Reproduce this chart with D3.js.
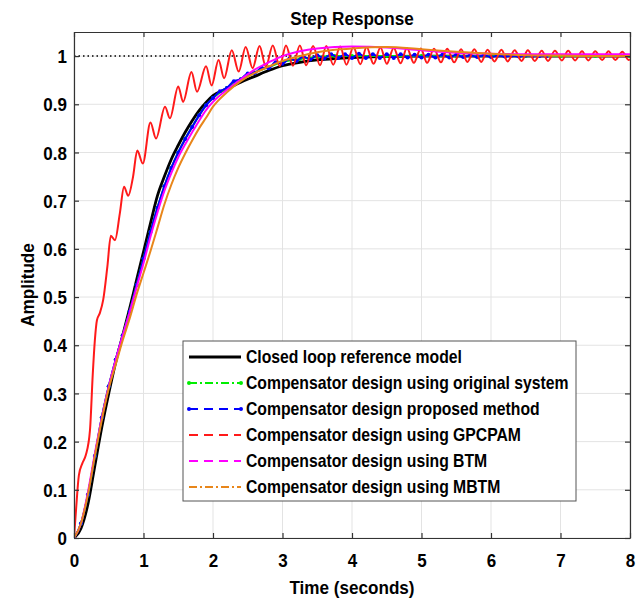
<!DOCTYPE html>
<html>
<head>
<meta charset="utf-8">
<script src="https://cdnjs.cloudflare.com/ajax/libs/d3/7.8.5/d3.min.js"></script>
<style>
  body { margin: 0; background: #fff; }
  svg text { font-family: "Liberation Sans", Arial, sans-serif; font-weight: bold; fill: #000; }
</style>
</head>
<body>
<svg id="fig" width="643" height="601"></svg>
<script>
// step response data
const tGrid = [0, 0.1, 0.2, 0.3, 0.4, 0.5, 0.6, 0.7, 0.8, 0.9, 1.0, 1.1, 1.2, 1.3, 1.4, 1.5, 1.6, 1.7, 1.8, 1.9,
  2.0, 2.2, 2.4, 2.6, 2.8, 3.0, 3.25, 3.5, 3.75, 4.0, 4.5, 5.0, 5.5, 6.0, 6.5, 7.0, 7.5, 8.0];

const refModel = [0, 0.02, 0.07, 0.15, 0.23, 0.30, 0.365, 0.42, 0.476, 0.535, 0.594, 0.653, 0.71, 0.75, 0.786, 0.815,
  0.842, 0.866, 0.887, 0.904, 0.918, 0.932, 0.946, 0.958, 0.970, 0.980, 0.987, 0.992, 0.995, 0.997, 0.999, 1.0, 1.0, 1.0, 1.0, 1.0, 1.0, 1.0];

const originalSys = [0, 0.03, 0.09, 0.17, 0.25, 0.315, 0.37, 0.42, 0.47, 0.525, 0.58, 0.635, 0.685, 0.73, 0.768, 0.80,
  0.828, 0.853, 0.877, 0.898, 0.913, 0.934, 0.952, 0.966, 0.977, 0.988, 0.994, 0.998, 1.0, 1.0, 1.0, 1.0, 1.0, 1.0, 1.0, 1.0, 1.0, 1.0];

const btm = [0, 0.03, 0.095, 0.175, 0.25, 0.315, 0.37, 0.42, 0.468, 0.52, 0.57, 0.625, 0.675, 0.72, 0.757, 0.79,
  0.817, 0.842, 0.866, 0.888, 0.905, 0.93, 0.952, 0.972, 0.987, 1.0, 1.01, 1.016, 1.019, 1.02, 1.018, 1.012, 1.007, 1.005, 1.004, 1.004, 1.004, 1.004];

const mbtm = [0, 0.03, 0.09, 0.17, 0.245, 0.31, 0.36, 0.41, 0.455, 0.505, 0.55, 0.595, 0.643, 0.692, 0.733, 0.768,
  0.798, 0.825, 0.85, 0.872, 0.895, 0.925, 0.948, 0.965, 0.978, 0.99, 1.0, 1.008, 1.013, 1.016, 1.019, 1.014, 1.009, 1.005, 1.002, 1.001, 1.0, 1.0];

const tProposed = [0, 0.1, 0.2, 0.3, 0.4, 0.5, 0.6, 0.7, 0.8, 0.9, 1.0, 1.1, 1.2, 1.3, 1.4, 1.5, 1.6, 1.7, 1.8, 1.9,
  2.0, 2.1, 2.2, 2.3, 2.4, 2.5, 2.6, 2.7, 2.8, 2.9, 3.0, 3.1, 3.2, 3.3, 3.4, 3.5, 3.6, 3.7, 3.8, 3.9,
  4.0, 4.1, 4.2, 4.3, 4.4, 4.5, 4.6, 4.7, 4.8, 4.9, 5.0, 5.1, 5.2, 5.3, 5.4, 5.5, 5.6, 5.7, 5.8, 5.9,
  6.0, 6.1, 6.2, 6.3, 6.4, 6.5, 6.6, 6.7, 6.8];
const proposed = [0, 0.03, 0.09, 0.17, 0.25, 0.315, 0.37, 0.42, 0.47, 0.525, 0.58, 0.635, 0.685, 0.73, 0.768, 0.80,
  0.828, 0.853, 0.877, 0.898, 0.913, 0.927, 0.934, 0.948, 0.952, 0.964, 0.965, 0.976, 0.975, 0.987,
  0.984, 0.995, 0.990, 0.999, 0.993, 1.002, 0.995, 1.004, 0.996, 1.004, 0.996, 1.005, 0.996, 1.004, 0.996,
  1.004, 0.996, 1.004, 0.997, 1.003, 0.997, 1.003, 0.997, 1.003, 0.997, 1.003, 0.998, 1.002, 0.998, 1.002,
  0.998, 1.001, 0.999, 1.001, 0.999, 1.001, 1.0, 1.0, 1.0];

const tGpcpam = [0, 0.03, 0.07, 0.12, 0.17, 0.23, 0.27, 0.30, 0.33, 0.37, 0.42, 0.48, 0.53, 0.59, 0.66, 0.72, 0.78, 0.85,
  0.91, 0.99, 1.10, 1.18, 1.31, 1.38, 1.50, 1.57, 1.69, 1.77, 1.90, 1.98, 2.08, 2.16, 2.27, 2.37, 2.47, 2.57,
  2.67, 2.76, 2.86, 2.96, 3.05, 3.15, 3.25, 3.34, 3.44, 3.54, 3.63, 3.73, 3.83, 3.92, 4.02, 4.12, 4.21, 4.31,
  4.41, 4.50, 4.60, 4.70, 4.79, 4.89, 4.99, 5.08, 5.18, 5.28, 5.37, 5.47, 5.57, 5.66, 5.76, 5.86, 5.95, 6.05,
  6.15, 6.24, 6.34, 6.44, 6.53, 6.63, 6.73, 6.82, 6.92, 7.02, 7.11, 7.21, 7.31, 7.40, 7.50, 7.60, 7.69, 7.79,
  7.89, 7.98, 8.0];
const gpcpam = [0, 0.06, 0.13, 0.155, 0.172, 0.224, 0.34, 0.41, 0.452, 0.466, 0.494, 0.563, 0.627, 0.618, 0.674, 0.729, 0.71, 0.75,
  0.804, 0.777, 0.862, 0.829, 0.895, 0.871, 0.937, 0.905, 0.967, 0.926, 0.979, 0.939, 0.992, 0.954, 1.012, 0.968, 1.019, 0.975,
  1.021, 0.978, 1.022, 0.979, 1.022, 0.98, 1.022, 0.981, 1.021, 0.981, 1.021, 0.982, 1.020, 0.982, 1.019, 0.983, 1.019, 0.984,
  1.018, 0.984, 1.017, 0.985, 1.017, 0.986, 1.016, 0.986, 1.015, 0.987, 1.015, 0.987, 1.014, 0.988, 1.014, 0.988, 1.013, 0.989,
  1.013, 0.989, 1.012, 0.99, 1.012, 0.99, 1.011, 0.99, 1.011, 0.991, 1.011, 0.991, 1.010, 0.991, 1.010, 0.992, 1.010, 0.992,
  1.009, 0.992, 0.993];

const xTicks = [0, 1, 2, 3, 4, 5, 6, 7, 8];
const yTicks = [0, 0.1, 0.2, 0.3, 0.4, 0.5, 0.6, 0.7, 0.8, 0.9, 1];
const legendLabels = [
  'Closed loop reference model',
  'Compensator design using original system',
  'Compensator design proposed method',
  'Compensator design using GPCPAM',
  'Compensator design using BTM',
  'Compensator design using MBTM'
];

const zip = (t, v) => t.map((d, i) => [d, v[i]]);

const series = [
  { name: legendLabels[0], pts: zip(tGrid, refModel), color: '#000000', width: 2.8, dash: null, dots: false },
  { name: legendLabels[1], pts: zip(tGrid, originalSys), color: '#00ee00', width: 2, dash: '8,3,2,3', dots: true },
  { name: legendLabels[2], pts: zip(tProposed, proposed), color: '#0000ff', width: 2, dash: '9,6', dots: true },
  { name: legendLabels[3], pts: zip(tGpcpam, gpcpam), color: '#ff1a1a', width: 2, dash: '9,6', dots: false },
  { name: legendLabels[4], pts: zip(tGrid, btm), color: '#ff00ff', width: 2, dash: '9,6', dots: false },
  { name: legendLabels[5], pts: zip(tGrid, mbtm), color: '#e8861a', width: 2, dash: '8,3,2,3', dots: false }
];

const svg = d3.select('#fig');
const margin = { top: 32, right: 13, bottom: 63, left: 74 };
const W = 643, H = 601;
const x = d3.scaleLinear().domain([0, 8]).range([margin.left, W - margin.right]);
const y = d3.scaleLinear().domain([0, 1.05]).range([H - margin.bottom, margin.top]);

// the original text is a tall, narrow bold face: squeeze horizontally
const squeeze = (sel, k, extra = '') => sel.each(function () {
  const t = d3.select(this);
  const tx = +t.attr('x') || 0, ty = +t.attr('y') || 0;
  t.attr('x', 0).attr('y', 0).attr('transform', `translate(${tx},${ty}) ${extra} scale(${k},1)`);
});

// grid
const grid = svg.append('g').attr('stroke', '#e3e3e3').attr('stroke-width', 1);
grid.selectAll('.gx').data(xTicks).join('line')
  .attr('x1', d => x(d)).attr('x2', d => x(d))
  .attr('y1', y(0)).attr('y2', y(1.05));
grid.selectAll('.gy').data(yTicks).join('line')
  .attr('x1', x(0)).attr('x2', x(8))
  .attr('y1', d => y(d)).attr('y2', d => y(d));

svg.append('defs').append('clipPath').attr('id', 'clip')
  .append('rect').attr('x', x(0)).attr('y', y(1.05))
  .attr('width', x(8) - x(0)).attr('height', y(0) - y(1.05));

const plot = svg.append('g').attr('clip-path', 'url(#clip)');

// steady-state dotted line
plot.append('line')
  .attr('x1', x(0)).attr('x2', x(8)).attr('y1', y(1)).attr('y2', y(1))
  .attr('stroke', '#000').attr('stroke-width', 1.5).attr('stroke-dasharray', '1.5,3');

const line = d3.line().x(d => x(d[0])).y(d => y(d[1])).curve(d3.curveMonotoneX);

series.forEach(s => {
  plot.append('path')
    .attr('d', line(s.pts))
    .attr('fill', 'none')
    .attr('stroke', s.color)
    .attr('stroke-width', s.width)
    .attr('stroke-linejoin', 'round');
  if (s.dots) {
    plot.selectAll(null).data(s.pts).join('circle')
      .attr('cx', d => x(d[0])).attr('cy', d => y(d[1]))
      .attr('r', 2).attr('fill', s.color);
  }
});

// axes: ticks inside on all four sides
const axisColor = '#333';
const gx = svg.append('g').attr('transform', `translate(0,${y(0)})`)
  .call(d3.axisBottom(x).tickValues(xTicks).tickSizeInner(-5).tickSizeOuter(0).tickPadding(16).tickFormat(d3.format('d')));
const gy = svg.append('g').attr('transform', `translate(${x(0)},0)`)
  .call(d3.axisLeft(y).tickValues(yTicks).tickSizeInner(-5).tickSizeOuter(0).tickPadding(7).tickFormat(d => d === 0 || d === 1 ? d : d3.format('.1f')(d)));
const gt = svg.append('g').attr('transform', `translate(0,${y(1.05)})`)
  .call(d3.axisTop(x).tickValues(xTicks).tickSizeInner(-5).tickSizeOuter(0).tickFormat(''));
const gr = svg.append('g').attr('transform', `translate(${x(8)},0)`)
  .call(d3.axisRight(y).tickValues(yTicks).tickSizeInner(-5).tickSizeOuter(0).tickFormat(''));

[gx, gy, gt, gr].forEach(g => {
  g.select('.domain').attr('stroke', axisColor).attr('stroke-width', 1.2);
  g.selectAll('.tick line').attr('stroke', axisColor).attr('stroke-width', 1.2);
  g.selectAll('.tick text').attr('font-size', 18.5).attr('font-family', null).attr('fill', '#000');
});
gy.selectAll('.tick text').attr('dy', '0.36em');
squeeze(gx.selectAll('.tick text'), 0.92);
squeeze(gy.selectAll('.tick text'), 0.92);

// titles
const cx = (x(0) + x(8)) / 2;
svg.append('text').attr('x', cx).attr('y', 25)
  .attr('text-anchor', 'middle').attr('font-size', 19).text('Step Response')
  .call(squeeze, 0.9);
svg.append('text').attr('x', cx).attr('y', 594)
  .attr('text-anchor', 'middle').attr('font-size', 19).text('Time (seconds)')
  .call(squeeze, 0.9);
svg.append('text').attr('x', 34).attr('y', (y(0) + y(1.05)) / 2)
  .attr('text-anchor', 'middle').attr('font-size', 19).text('Amplitude')
  .call(squeeze, 0.9, 'rotate(-90)');

// legend
const lg = svg.append('g').attr('transform', 'translate(183,341)');
lg.append('rect').attr('width', 393).attr('height', 160)
  .attr('fill', '#fff').attr('stroke', '#555').attr('stroke-width', 1);
const rows = lg.selectAll('g.row').data(series).join('g')
  .attr('transform', (d, i) => `translate(0,${16 + i * 26})`);
rows.append('line').attr('x1', 6).attr('x2', 58).attr('y1', 0).attr('y2', 0)
  .attr('stroke', d => d.color).attr('stroke-width', d => d.width)
  .attr('stroke-dasharray', d => d.dash);
rows.filter(d => d.dots).selectAll('circle').data([6, 58]).join('circle')
  .attr('cx', d => d).attr('cy', 0).attr('r', 2)
  .attr('fill', function () { return d3.select(this.parentNode).datum().color; });
rows.append('text').attr('x', 63).attr('y', 0).attr('dy', '0.36em')
  .attr('font-size', 17.5).text(d => d.name)
  .call(squeeze, 0.9);
</script>
</body>
</html>
